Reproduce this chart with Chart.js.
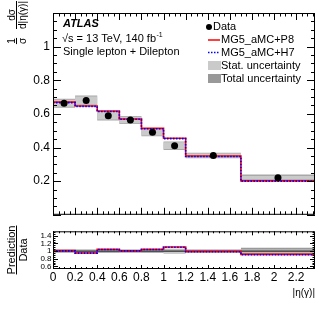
<!DOCTYPE html>
<html>
<head>
<meta charset="utf-8">
<script src="https://cdn.jsdelivr.net/npm/chart.js@4/dist/chart.umd.min.js"></script>
<style>
  html, body { margin: 0; padding: 0; background: #fff; }
  #wrap { position: relative; width: 332px; height: 319px; overflow: hidden; }
  #mainChart { position: absolute; left: 0; top: 0; }
  #ratioChart { position: absolute; left: 0; top: 225px; }
</style>
</head>
<body>
<div id="wrap">
  <canvas id="mainChart" width="332" height="225"></canvas>
  <canvas id="ratioChart" width="332" height="94"></canvas>
</div>
<script>
// |eta(gamma)| bins
const binEdges = [0, 0.2, 0.4, 0.6, 0.8, 1.0, 1.2, 1.7, 2.37];
const binCenters = [0.1, 0.3, 0.5, 0.7, 0.9, 1.1, 1.45, 2.035];

// normalised cross-section
const dataValues = [0.663, 0.680, 0.589, 0.564, 0.491, 0.411, 0.353, 0.221];
const statUnc = [0.021, 0.024, 0.022, 0.019, 0.019, 0.020, 0.011, 0.009];
const totalUnc = [0.027, 0.030, 0.028, 0.024, 0.024, 0.025, 0.016, 0.019];
const p8Values = [0.670, 0.647, 0.617, 0.570, 0.514, 0.455, 0.350, 0.202];
const h7Values = [0.667, 0.645, 0.614, 0.568, 0.512, 0.453, 0.347, 0.200];

// prediction / data
const ratioP8 = [1.015, 0.951, 1.048, 1.011, 1.047, 1.107, 0.992, 0.914];
const ratioH7 = [1.006, 0.948, 1.043, 1.007, 1.043, 1.102, 0.984, 0.906];
const ratioStat = [0.032, 0.035, 0.037, 0.034, 0.039, 0.049, 0.031, 0.040];
const ratioTotal = [0.041, 0.044, 0.048, 0.043, 0.049, 0.061, 0.045, 0.086];

// axis ticks
const xTicks = [0, 0.2, 0.4, 0.6, 0.8, 1, 1.2, 1.4, 1.6, 1.8, 2, 2.2];
const mainYTicks = [0.2, 0.4, 0.6, 0.8, 1];
const ratioYTicks = [0.6, 0.8, 1, 1.2, 1.4];

const FONT = "'Liberation Sans', Arial, Helvetica, sans-serif";
const xMax = binEdges[binEdges.length - 1];

// histogram as stepped line: one point per left edge + closing right edge
function stepPoints(values) {
  const pts = values.map((v, i) => ({ x: binEdges[i], y: v }));
  pts.push({ x: binEdges[values.length], y: values[values.length - 1] });
  return pts;
}

function range(from, to, step) {
  const out = [];
  for (let k = 0; from + k * step <= to + 1e-9; k++) out.push(+(from + k * step).toFixed(4));
  return out;
}

// ROOT style frame with inward ticks on all four sides
const frameTicks = {
  id: 'frameTicks',
  afterDatasetsDraw(chart, args, o) {
    const { ctx, chartArea: a, scales: { x, y } } = chart;
    ctx.save();
    ctx.strokeStyle = '#000';
    ctx.lineWidth = 1;
    ctx.beginPath();
    const tickX = (vals, len) => vals.forEach((v) => {
      const px = Math.round(x.getPixelForValue(v)) + 0.5;
      ctx.moveTo(px, a.bottom); ctx.lineTo(px, a.bottom - len);
      ctx.moveTo(px, a.top); ctx.lineTo(px, a.top + len);
    });
    const tickY = (vals, len) => vals.forEach((v) => {
      const py = Math.round(y.getPixelForValue(v)) + 0.5;
      ctx.moveTo(a.left, py); ctx.lineTo(a.left + len, py);
      ctx.moveTo(a.right, py); ctx.lineTo(a.right - len, py);
    });
    tickX(o.xMinor, o.xLen[1]);
    tickX(o.xMajor, o.xLen[0]);
    tickY(o.yMinor, o.yLen[1]);
    tickY(o.yMajor, o.yLen[0]);
    ctx.stroke();
    ctx.strokeRect(a.left + 0.5, a.top + 0.5, a.width - 1, a.height - 1);
    ctx.restore();
  }
};

function drawRotatedFraction(ctx, bx, cy, num, den, font, gap) {
  ctx.save();
  ctx.translate(bx, cy);
  ctx.rotate(-Math.PI / 2);
  ctx.font = font;
  ctx.fillStyle = '#000';
  ctx.textAlign = 'center';
  const w = Math.max(ctx.measureText(num).width, ctx.measureText(den).width);
  ctx.textBaseline = 'alphabetic';
  ctx.fillText(num, 0, -gap);
  ctx.textBaseline = 'top';
  ctx.fillText(den, 0, gap);
  ctx.fillRect(-w / 2, -0.5, w, 1);
  ctx.restore();
}

const mainDecor = {
  id: 'mainDecor',
  afterDraw(chart) {
    const ctx = chart.ctx;
    ctx.save();
    ctx.fillStyle = '#000';
    ctx.textBaseline = 'middle';
    ctx.textAlign = 'left';
    // labels
    ctx.font = `italic bold 11px ${FONT}`;
    ctx.fillText('ATLAS', 63, 24);
    ctx.font = `11px ${FONT}`;
    ctx.fillText('\u221As = 13 TeV, 140 fb', 62, 39);
    const w = ctx.measureText('\u221As = 13 TeV, 140 fb').width;
    ctx.font = `7px ${FONT}`;
    ctx.fillText('-1', 62 + w + 0.5, 35);
    ctx.font = `11px ${FONT}`;
    ctx.fillText('Single lepton + Dilepton', 63, 52);

    // legend
    ctx.beginPath();
    ctx.arc(209, 27, 3, 0, Math.PI * 2);
    ctx.fill();
    ctx.fillText('Data', 213, 27);
    ctx.strokeStyle = '#ff0000';
    ctx.lineWidth = 1.5;
    ctx.beginPath(); ctx.moveTo(208, 40); ctx.lineTo(220, 40); ctx.stroke();
    ctx.fillText('MG5_aMC+P8', 221, 40);
    ctx.strokeStyle = '#0000ff';
    ctx.setLineDash([1.5, 1.5]);
    ctx.beginPath(); ctx.moveTo(208, 52.5); ctx.lineTo(220, 52.5); ctx.stroke();
    ctx.setLineDash([]);
    ctx.fillText('MG5_aMC+H7', 221, 52.5);
    ctx.fillStyle = '#cacaca';
    ctx.fillRect(208, 61, 13, 9);
    ctx.fillStyle = '#999999';
    ctx.fillRect(208, 74, 13, 9);
    ctx.fillStyle = '#000';
    ctx.fillText('Stat. uncertainty', 221, 65.5);
    ctx.fillText('Total uncertainty', 221, 78.5);

    // y title: 1/sigma dsigma/d|eta(gamma)|
    drawRotatedFraction(ctx, 16.5, 41, '1', '\u03C3', `10px ${FONT}`, 1.5);
    drawRotatedFraction(ctx, 16.5, 15, 'd\u03C3', 'd|\u03B7(\u03B3)|', `10px ${FONT}`, 1.5);
    ctx.restore();
  }
};

const ratioDecor = {
  id: 'ratioDecor',
  afterDraw(chart) {
    const ctx = chart.ctx;
    ctx.save();
    drawRotatedFraction(ctx, 16.5, 25, 'Prediction', 'Data', `11px ${FONT}`, 1.5);
    ctx.fillStyle = '#000';
    ctx.font = `10px ${FONT}`;
    ctx.textAlign = 'right';
    ctx.textBaseline = 'middle';
    ctx.fillText('|\u03B7(\u03B3)|', 315, 68);
    ctx.restore();
  }
};

function band(values, unc, sign) {
  return stepPoints(values.map((v, i) => v + sign * unc[i]));
}

const bandStyle = (color, fill, order) => ({
  type: 'line', stepped: true, pointRadius: 0, borderWidth: 0,
  backgroundColor: color, fill, order
});

const lineStyle = (color, dash, order) => ({
  type: 'line', stepped: true, pointRadius: 0, borderWidth: 1.6,
  borderColor: color, borderDash: dash, fill: false, order
});

new Chart(document.getElementById('mainChart'), {
  type: 'line',
  data: {
    datasets: [
      { type: 'scatter', label: 'Data', data: dataValues.map((v, i) => ({ x: binCenters[i], y: v })),
        pointRadius: 3.5, pointBackgroundColor: '#000', pointBorderWidth: 0, order: 1 },
      { label: 'MG5_aMC+H7', data: stepPoints(h7Values), ...lineStyle('#0000ff', [1.5, 1.5], 2) },
      { label: 'MG5_aMC+P8', data: stepPoints(p8Values), ...lineStyle('#ff0000', [], 3) },
      { label: 'stat up', data: band(dataValues, statUnc, 1), ...bandStyle('#cacaca', '+1', 4) },
      { label: 'stat down', data: band(dataValues, statUnc, -1), ...bandStyle('#cacaca', false, 5) },
      { label: 'total up', data: band(dataValues, totalUnc, 1), ...bandStyle('#a8a8a8', '+1', 6) },
      { label: 'total down', data: band(dataValues, totalUnc, -1), ...bandStyle('#a8a8a8', false, 7) }
    ]
  },
  options: {
    responsive: false,
    animation: false,
    events: [],
    layout: { padding: { top: 13, right: 17, bottom: 2, left: 0 } },
    plugins: {
      legend: { display: false },
      tooltip: { enabled: false },
      frameTicks: {
        xMajor: xTicks, xMinor: range(0, xMax, 0.05), xLen: [7, 3.5],
        yMajor: range(0, 1.2, 0.2), yMinor: range(0, 1.2, 0.05), yLen: [8, 4]
      }
    },
    scales: {
      x: { type: 'linear', min: 0, max: xMax, display: false },
      y: {
        type: 'linear', min: 0, max: 1.2,
        afterFit: (s) => { s.width = 53; },
        afterBuildTicks: (s) => { s.ticks = mainYTicks.map((v) => ({ value: v })); },
        grid: { display: false, drawTicks: false },
        border: { display: false },
        ticks: { color: '#000', padding: 3, autoSkip: false, font: { family: FONT, size: 12 },
          callback: (v) => String(Math.round(v * 10) / 10) }
      }
    }
  },
  plugins: [frameTicks, mainDecor]
});

new Chart(document.getElementById('ratioChart'), {
  type: 'line',
  data: {
    datasets: [
      { label: 'MG5_aMC+H7', data: stepPoints(ratioH7), ...lineStyle('#0000ff', [1.5, 1.5], 1) },
      { label: 'MG5_aMC+P8', data: stepPoints(ratioP8), ...lineStyle('#ff0000', [], 2) },
      { label: 'Data', data: [{ x: 0, y: 1 }, { x: xMax, y: 1 }], type: 'line', pointRadius: 0,
        borderWidth: 1, borderColor: '#000', fill: false, order: 3 },
      { label: 'stat up', data: band(ratioP8.map(() => 1), ratioStat, 1), ...bandStyle('#cacaca', '+1', 4) },
      { label: 'stat down', data: band(ratioP8.map(() => 1), ratioStat, -1), ...bandStyle('#cacaca', false, 5) },
      { label: 'total up', data: band(ratioP8.map(() => 1), ratioTotal, 1), ...bandStyle('#999999', '+1', 6) },
      { label: 'total down', data: band(ratioP8.map(() => 1), ratioTotal, -1), ...bandStyle('#999999', false, 7) }
    ]
  },
  options: {
    responsive: false,
    animation: false,
    events: [],
    layout: { padding: { top: 2, right: 17, bottom: 0, left: 0 } },
    plugins: {
      legend: { display: false },
      tooltip: { enabled: false },
      frameTicks: {
        xMajor: xTicks, xMinor: range(0, xMax, 0.05), xLen: [4, 2],
        yMajor: ratioYTicks, yMinor: range(0.55, 1.5, 0.05), yLen: [5, 2.5]
      }
    },
    scales: {
      x: {
        type: 'linear', min: 0, max: xMax,
        afterFit: (s) => { s.height = 50; },
        afterBuildTicks: (s) => { s.ticks = xTicks.map((v) => ({ value: v })); },
        grid: { display: false, drawTicks: false },
        border: { display: false },
        ticks: { color: '#000', padding: 1, maxRotation: 0, autoSkip: false, font: { family: FONT, size: 12 },
          callback: (v) => String(Math.round(v * 10) / 10) }
      },
      y: {
        type: 'linear', min: 0.53, max: 1.52,
        afterFit: (s) => { s.width = 53; },
        afterBuildTicks: (s) => { s.ticks = ratioYTicks.map((v) => ({ value: v })); },
        grid: { display: false, drawTicks: false },
        border: { display: false },
        ticks: { color: '#000', padding: 1.5, autoSkip: false, font: { family: FONT, size: 8 },
          callback: (v) => String(Math.round(v * 10) / 10) }
      }
    }
  },
  plugins: [frameTicks, ratioDecor]
});
</script>
</body>
</html>
